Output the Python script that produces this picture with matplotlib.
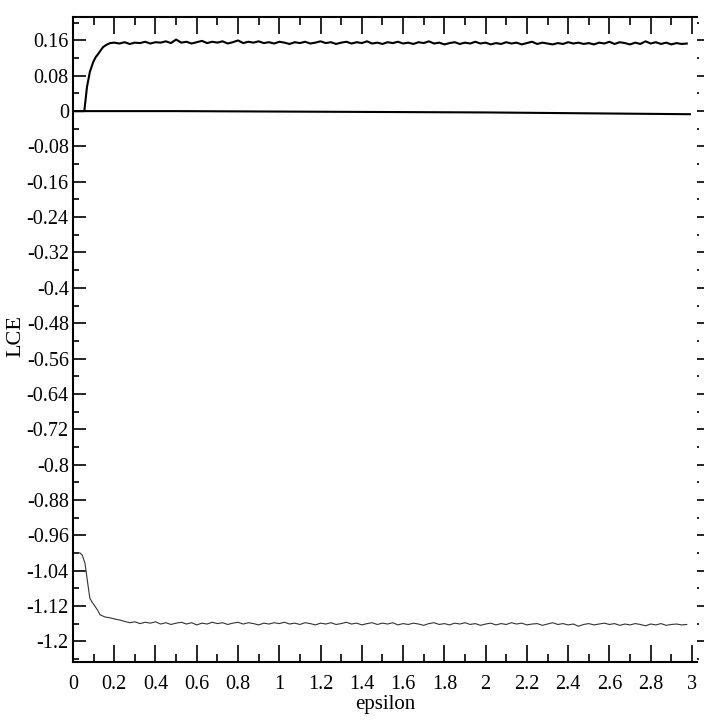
import numpy as np
import matplotlib.pyplot as plt
from matplotlib.ticker import MultipleLocator, FuncFormatter

plt.rcParams['font.family'] = ['Liberation Serif', 'DejaVu Serif']
plt.rcParams['axes.unicode_minus'] = False

# upper exponent: rise then noisy plateau
eps_up_rise = [0.0, 0.055, 0.068, 0.082, 0.098, 0.11, 0.123, 0.135, 0.146, 0.162, 0.18]
lce_up_rise = [0.0, 0.0, 0.055, 0.089, 0.111, 0.122, 0.130, 0.138, 0.145, 0.150, 0.154]
lce_up_flat = [
    0.155, 0.153, 0.156, 0.152, 0.155, 0.154, 0.157, 0.153, 0.156, 0.155,
    0.158, 0.154, 0.162, 0.155, 0.157, 0.153, 0.156, 0.159, 0.154, 0.157,
    0.155, 0.158, 0.153, 0.156, 0.160, 0.154, 0.157, 0.155, 0.158, 0.154,
    0.156, 0.153, 0.157, 0.155, 0.152, 0.156, 0.154, 0.157, 0.153, 0.155,
    0.158, 0.154, 0.156, 0.152, 0.155, 0.157, 0.153, 0.156, 0.154, 0.158,
    0.153, 0.155, 0.152, 0.156, 0.154, 0.157, 0.153, 0.155, 0.152, 0.156,
    0.154, 0.158, 0.153, 0.155, 0.151, 0.154, 0.156, 0.152, 0.155, 0.153,
    0.157, 0.153, 0.155, 0.151, 0.154, 0.152, 0.156, 0.153, 0.155, 0.151,
    0.154, 0.157, 0.152, 0.155, 0.153, 0.151, 0.154, 0.152, 0.156, 0.153,
    0.155, 0.152, 0.154, 0.151, 0.155, 0.153, 0.157, 0.152, 0.156, 0.154,
    0.151, 0.155, 0.152, 0.158, 0.153, 0.156, 0.152, 0.155, 0.151, 0.154,
    0.152, 0.153,
]
eps_up_flat = np.linspace(0.2, 2.975, len(lce_up_flat))

# middle exponent (near zero)
eps_mid = [0.0, 0.5, 1.0, 1.5, 2.0, 2.5, 2.99]
lce_mid = [0.0, 0.0, -0.001, -0.002, -0.003, -0.005, -0.007]

# lower exponent: drop then noisy plateau
eps_low_drop = [0.0, 0.034, 0.045, 0.058, 0.066, 0.074, 0.082, 0.095, 0.107, 0.12, 0.131, 0.155, 0.18, 0.205, 0.228]
lce_low_drop = [-1.0, -1.0, -1.005, -1.023, -1.05, -1.077, -1.103, -1.113, -1.121, -1.13, -1.14, -1.145, -1.147, -1.15, -1.152]
lce_low_flat = [
    -1.155, -1.158, -1.156, -1.160, -1.157, -1.159, -1.156, -1.161, -1.158, -1.162,
    -1.159, -1.157, -1.161, -1.158, -1.163, -1.159, -1.161, -1.157, -1.160, -1.158,
    -1.162, -1.159, -1.157, -1.161, -1.158, -1.160, -1.163, -1.159, -1.161, -1.158,
    -1.160, -1.157, -1.161, -1.159, -1.162, -1.158, -1.160, -1.163, -1.159, -1.161,
    -1.158, -1.162, -1.160, -1.157, -1.161, -1.159, -1.163, -1.160, -1.158, -1.162,
    -1.159, -1.161, -1.158, -1.163, -1.160, -1.162, -1.159, -1.161, -1.164, -1.160,
    -1.158, -1.162, -1.160, -1.163, -1.159, -1.161, -1.158, -1.162, -1.160, -1.164,
    -1.161, -1.159, -1.163, -1.160, -1.162, -1.158, -1.161, -1.159, -1.163, -1.161,
    -1.160, -1.164, -1.161, -1.158, -1.162, -1.160, -1.163, -1.161, -1.166, -1.162,
    -1.160, -1.163, -1.161, -1.159, -1.162, -1.160, -1.164, -1.161, -1.163, -1.160,
    -1.162, -1.165, -1.161, -1.163, -1.160, -1.164, -1.162, -1.161, -1.163, -1.162,
]
eps_low_flat = np.linspace(0.25, 2.975, len(lce_low_flat))

eps_up = np.concatenate([eps_up_rise, eps_up_flat])
lce_up = np.concatenate([lce_up_rise, lce_up_flat])
eps_low = np.concatenate([eps_low_drop, eps_low_flat])
lce_low = np.concatenate([lce_low_drop, lce_low_flat])


def fmt(v, pos):
    v = round(v, 2)
    if v == 0:
        return "0"
    return f"{v:g}"


fig = plt.figure(figsize=(7.05, 7.21), dpi=100)
ax = fig.add_axes([0.1035, 0.0818, 0.885, 0.8946])

ax.plot(eps_up, lce_up, color="black", lw=1.5)
ax.plot(eps_mid, lce_mid, color="black", lw=1.5)
ax.plot(eps_low, lce_low, color="#333333", lw=0.8)

ax.set_xlim(0, 3.024)
ax.set_ylim(-1.247, 0.213)

ax.xaxis.set_major_locator(MultipleLocator(0.2))
ax.xaxis.set_minor_locator(MultipleLocator(0.1))
ax.yaxis.set_major_locator(MultipleLocator(0.08))
ax.yaxis.set_minor_locator(MultipleLocator(0.04))
ax.xaxis.set_major_formatter(FuncFormatter(fmt))
ax.yaxis.set_major_formatter(FuncFormatter(fmt))

ax.spines["right"].set_visible(False)
for s in ["left", "top", "bottom"]:
    ax.spines[s].set_linewidth(1.5)

ax.tick_params(axis="x", which="both", direction="in", top=True, bottom=True, width=1.2, labelsize=14.5, pad=9)
ax.tick_params(axis="x", which="major", length=12)
ax.tick_params(axis="x", which="minor", length=6)
ax.tick_params(axis="y", which="both", direction="in", left=True, right=False, width=1.2, labelsize=14.5, pad=3)
ax.tick_params(axis="y", which="major", length=9)
ax.tick_params(axis="y", which="minor", length=4.5)

# right side: outward ticks without spine
ax2 = ax.twinx()
ax2.set_ylim(ax.get_ylim())
ax2.yaxis.set_major_locator(MultipleLocator(0.08))
ax2.yaxis.set_minor_locator(MultipleLocator(0.04))
for s in ax2.spines.values():
    s.set_visible(False)
ax2.tick_params(axis="y", which="both", direction="out", labelright=False, width=1.2)
ax2.tick_params(axis="y", which="major", length=5)
ax2.tick_params(axis="y", which="minor", length=1.5)

ax.set_xlabel("epsilon", fontsize=15, labelpad=1)
ax.set_ylabel("LCE", fontsize=16)
ax.yaxis.set_label_coords(-0.076, 0.505)

plt.savefig("out.png", dpi=100)
